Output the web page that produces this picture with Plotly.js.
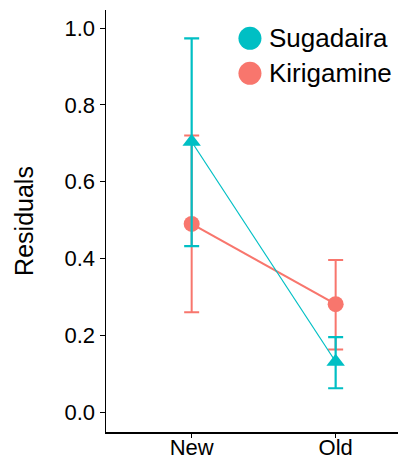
<!DOCTYPE html>
<html><head><meta charset="utf-8">
<script src="https://cdn.plot.ly/plotly-3.0.1.min.js"></script>
<style>body{margin:0;background:#fff}#c{width:398px;height:460px}</style>
</head><body><div id="c"></div>
<script>
const categories = ["New", "Old"];
const sugMean = [0.704, 0.131];
const sugLow = [0.432, 0.062];
const sugHigh = [0.973, 0.195];
const kirMean = [0.490, 0.281];
const kirLow = [0.260, 0.163];
const kirHigh = [0.720, 0.396];
const yTicks = [0.0, 0.2, 0.4, 0.6, 0.8, 1.0];

const teal = "#00BFC4", red = "#F8766D";
function errs(mean, lo, hi){
  return {type:"data", symmetric:false,
    array: mean.map((m,i)=>hi[i]-m), arrayminus: mean.map((m,i)=>m-lo[i])};
}
const kir = {x:categories, y:kirMean, type:"scatter", mode:"lines+markers", name:"Kirigamine",
  line:{color:red, width:2.2}, marker:{color:red, size:16, symbol:"circle"},
  error_y:Object.assign(errs(kirMean,kirLow,kirHigh),{color:red, thickness:2, width:7.5}), showlegend:false};
const sug = {x:categories, y:sugMean, type:"scatter", mode:"lines+markers", name:"Sugadaira",
  line:{color:teal, width:1.2}, marker:{color:teal, size:16, symbol:"triangle-up"},
  error_y:Object.assign(errs(sugMean,sugLow,sugHigh),{color:teal, thickness:2.2, width:7.5}), showlegend:false};

const layout = {
  width:398, height:460, margin:{l:106, r:0, t:10, b:28},
  paper_bgcolor:"#fff", plot_bgcolor:"#fff", showlegend:false,
  font:{family:"Liberation Sans, Arial, sans-serif", color:"#000"},
  xaxis:{type:"category", range:[-0.595, 1.433], showgrid:false, zeroline:false,
    showline:true, linecolor:"#000", linewidth:1.5, ticks:"outside", ticklen:4, tickcolor:"#000",
    tickfont:{size:22, color:"#000"}, ticklabelstandoff:-9},
  yaxis:{range:[-0.052, 1.047], tickvals:yTicks, ticktext:yTicks.map(v=>v.toFixed(1)),
    showgrid:false, zeroline:false, showline:true, linecolor:"#000", linewidth:1.5,
    ticks:"outside", ticklen:5, tickcolor:"#000", tickfont:{size:22, color:"#000"},
    title:{text:"Residuals", font:{size:25, color:"#000"}, standoff:24}},
  shapes:[
    {type:"circle", xref:"paper", yref:"paper", xsizemode:"pixel", ysizemode:"pixel",
     xanchor:0.493, yanchor:0.933, x0:-11.5, x1:11.5, y0:-11.5, y1:11.5, fillcolor:teal, line:{width:0}},
    {type:"circle", xref:"paper", yref:"paper", xsizemode:"pixel", ysizemode:"pixel",
     xanchor:0.493, yanchor:0.850, x0:-11.5, x1:11.5, y0:-11.5, y1:11.5, fillcolor:red, line:{width:0}}
  ],
  annotations:[
    {xref:"paper", yref:"paper", x:0.552, y:0.933, text:"Sugadaira", showarrow:false, xanchor:"left", yanchor:"middle", font:{size:26, color:"#000"}},
    {xref:"paper", yref:"paper", x:0.552, y:0.850, text:"Kirigamine", showarrow:false, xanchor:"left", yanchor:"middle", font:{size:26, color:"#000"}}
  ]
};
Plotly.newPlot("c", [kir, sug], layout, {displayModeBar:false, staticPlot:true});
</script></body></html>
